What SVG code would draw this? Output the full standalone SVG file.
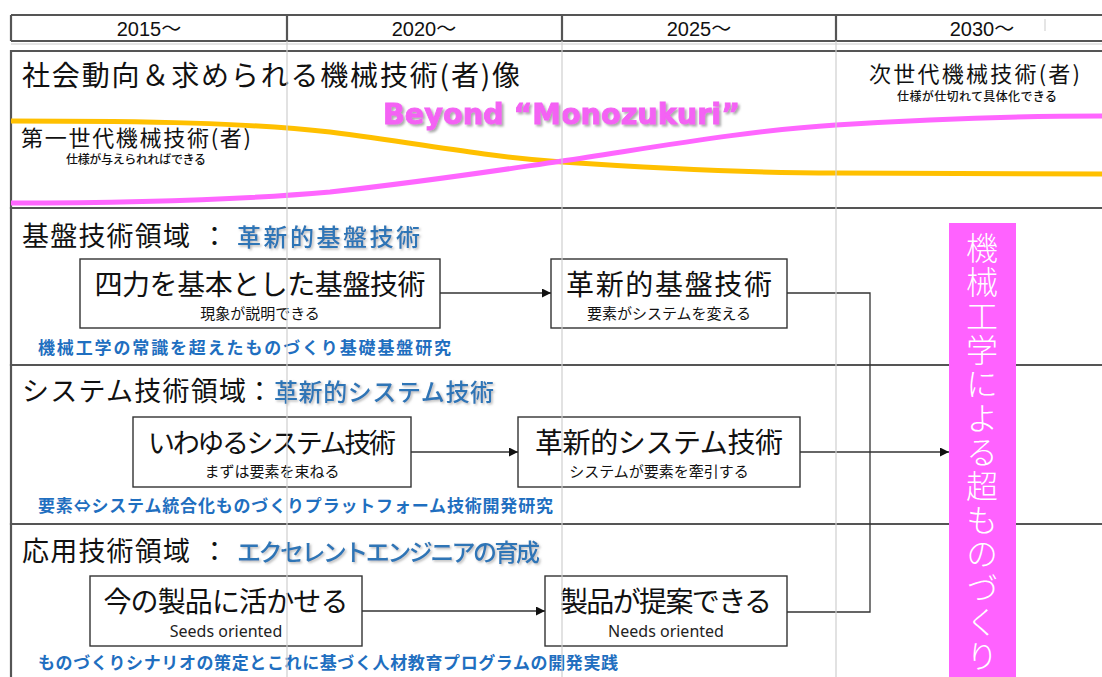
<svg xmlns="http://www.w3.org/2000/svg" width="1102" height="677" viewBox="0 0 1102 677">
<defs>
<style>
.jp{font-family:"Noto Sans CJK JP","Noto Sans",sans-serif;fill:#111}
.yr{font-family:"Liberation Sans","Noto Sans CJK JP",sans-serif;font-size:20px;fill:#111;text-anchor:middle}
.panel{fill:none;stroke:#555;stroke-width:2.2}
.box{fill:#fff;stroke:#333;stroke-width:1.4}
.grid{stroke:#cfcfcf;stroke-width:1.5;opacity:0.8}
.conn{fill:none;stroke:#333;stroke-width:1.3}
.blue{fill:#2E75B6;font-weight:500}
.sub{font-family:"Noto Sans CJK JP",sans-serif;font-weight:700;fill:#1F6FC0;font-size:17px}
.mid{text-anchor:middle}
.beyond{font-family:"DejaVu Sans","Verdana",sans-serif;font-weight:700;font-size:28px;fill:#F462F4;stroke:#F462F4;stroke-width:0.9}
</style>
<marker id="arr" viewBox="0 0 10 10" refX="10" refY="5" markerWidth="9" markerHeight="9" markerUnits="userSpaceOnUse" orient="auto">
<path d="M0,0 L10,5 L0,10 z" fill="#111"/>
</marker>
<filter id="sh" x="-5%" y="-20%" width="110%" height="150%">
<feDropShadow dx="1.5" dy="1.5" stdDeviation="1" flood-color="#888" flood-opacity="0.6"/>
</filter>
<filter id="sh2" x="-5%" y="-30%" width="110%" height="160%">
<feDropShadow dx="2" dy="2" stdDeviation="1.3" flood-color="#777" flood-opacity="0.6"/>
</filter>
</defs>
<rect width="1102" height="677" fill="#fff"/>

<g id="header">
<path class="panel" d="M11,15 H1102 M11,41 H1102 M11,15 V41 M287,15 V41 M562,15 V41 M836,15 V41"/>
<line x1="11" y1="44" x2="1102" y2="44" stroke="#ddd" stroke-width="1.5"/>
<line x1="1045" y1="19" x2="1045" y2="31" stroke="#ddd" stroke-width="1.5"/>
<text class="yr" x="149" y="36">2015～</text>
<text class="yr" x="424" y="36">2020～</text>
<text class="yr" x="699" y="36">2025～</text>
<text class="yr" x="982" y="36">2030～</text>
</g>

<g id="panel-society">
<path class="panel" d="M1102,51 H11 V208 H1102"/>
<path d="M11,121 C150,121 250,123 330,132 C430,145 480,156 562,162 C650,168 750,173 836,173 C950,174 1030,174 1102,174" fill="none" stroke="#FFC000" stroke-width="5"/>
<path d="M11,203 C150,203 250,199 330,192 C430,181 480,173 562,161 C650,148 750,130 836,125 C950,118 1030,116 1102,116" fill="none" stroke="#FF66FF" stroke-width="5"/>
<text class="jp" x="22" y="86" font-size="28" textLength="498">社会動向＆求められる機械技術(者)像</text>
<text class="beyond" x="383" y="124" filter="url(#sh2)" textLength="357" lengthAdjust="spacingAndGlyphs">Beyond “Monozukuri”</text>
<text class="jp" x="21" y="146" font-size="22" textLength="230">第一世代機械技術(者)</text>
<text class="jp" x="66" y="164" font-size="12" font-weight="500" textLength="140">仕様が与えられればできる</text>
<text class="jp" x="869" y="82" font-size="22" textLength="211">次世代機械技術(者)</text>
<text class="jp" x="897" y="101" font-size="12" font-weight="500" textLength="160">仕様が仕切れて具体化できる</text>
</g>

<g id="panel-kiban">
<path class="panel" d="M1102,208 H11 V365 H1102"/>
<text class="jp" x="22" y="246" font-size="27" textLength="168">基盤技術領域</text>
<text class="jp" x="201" y="246" font-size="27">：</text>
<text class="jp blue" x="237" y="246" font-size="24" textLength="183" filter="url(#sh)">革新的基盤技術</text>
<text class="sub" x="38" y="354" textLength="413">機械工学の常識を超えたものづくり基礎基盤研究</text>
</g>
<g id="node-yonriki">
<rect class="box" x="80" y="259" width="360" height="69"/>
<text class="jp mid" x="260" y="295" font-size="28" textLength="331">四力を基本とした基盤技術</text>
<text class="jp mid" x="260" y="319" font-size="15">現象が説明できる</text>
</g>
<g id="node-kakushin-kiban">
<rect class="box" x="551" y="259" width="236" height="69"/>
<text class="jp mid" x="669" y="295" font-size="28" textLength="206">革新的基盤技術</text>
<text class="jp mid" x="669" y="319" font-size="15">要素がシステムを変える</text>
</g>

<g id="panel-system">
<path class="panel" d="M1102,365 H11 V524 H1102"/>
<text class="jp" x="22" y="401" font-size="27" textLength="224">システム技術領域</text>
<text class="jp" x="246" y="401" font-size="27">：</text>
<text class="jp blue" x="274" y="401" font-size="24" textLength="220" filter="url(#sh)">革新的システム技術</text>
<text class="sub" x="38" y="512" font-size="18" textLength="515">要素⇔システム統合化ものづくりプラットフォーム技術開発研究</text>
</g>
<g id="node-iwayuru">
<rect class="box" x="133" y="417" width="278" height="70"/>
<text class="jp mid" x="272" y="453" font-size="27" textLength="248">いわゆるシステム技術</text>
<text class="jp mid" x="272" y="477" font-size="15">まずは要素を束ねる</text>
</g>
<g id="node-kakushin-system">
<rect class="box" x="518" y="417" width="282" height="70"/>
<text class="jp mid" x="659" y="453" font-size="28" textLength="248">革新的システム技術</text>
<text class="jp mid" x="659" y="477" font-size="15">システムが要素を牽引する</text>
</g>

<g id="panel-ouyou">
<path class="panel" d="M1102,524 H11 V677"/>
<text class="jp" x="22" y="561" font-size="27" textLength="168">応用技術領域</text>
<text class="jp" x="201" y="561" font-size="27">：</text>
<text class="jp blue" x="237" y="561" font-size="24" textLength="303" filter="url(#sh)">エクセレントエンジニアの育成</text>
<text class="sub" x="38" y="669" font-size="18" textLength="580">ものづくりシナリオの策定とこれに基づく人材教育プログラムの開発実践</text>
</g>
<g id="node-ima">
<rect class="box" x="90" y="576" width="272" height="70"/>
<text class="jp mid" x="226" y="612" font-size="28" textLength="245">今の製品に活かせる</text>
<text class="mid" x="226" y="637" font-size="16" font-family="Noto Sans, Liberation Sans, sans-serif" fill="#222">Seeds oriented</text>
</g>
<g id="node-teian">
<rect class="box" x="545" y="576" width="242" height="70"/>
<text class="jp mid" x="666" y="612" font-size="28" textLength="212">製品が提案できる</text>
<text class="mid" x="666" y="637" font-size="16" font-family="Noto Sans, Liberation Sans, sans-serif" fill="#222">Needs oriented</text>
</g>

<g id="node-chou-monozukuri">
<rect x="949" y="223" width="67" height="454" fill="#FF62FF"/>
<text class="jp" x="982" y="232" font-size="32" font-weight="300" letter-spacing="2" style="fill:#fff;writing-mode:vertical-rl">機械工学による超ものづくり</text>
</g>

<g id="connectors">
<line class="conn" x1="440" y1="293" x2="551" y2="293" marker-end="url(#arr)"/>
<line class="conn" x1="411" y1="452" x2="518" y2="452" marker-end="url(#arr)"/>
<line class="conn" x1="362" y1="611" x2="545" y2="611" marker-end="url(#arr)"/>
<path class="conn" d="M787,293 H870 V612 H787"/>
<line class="conn" x1="800" y1="452" x2="949" y2="452" marker-end="url(#arr)"/>
</g>

<g id="gridlines">
<line class="grid" x1="287" y1="41" x2="287" y2="677"/>
<line class="grid" x1="562" y1="41" x2="562" y2="677"/>
<line class="grid" x1="836" y1="41" x2="836" y2="677"/>
</g>
</svg>
